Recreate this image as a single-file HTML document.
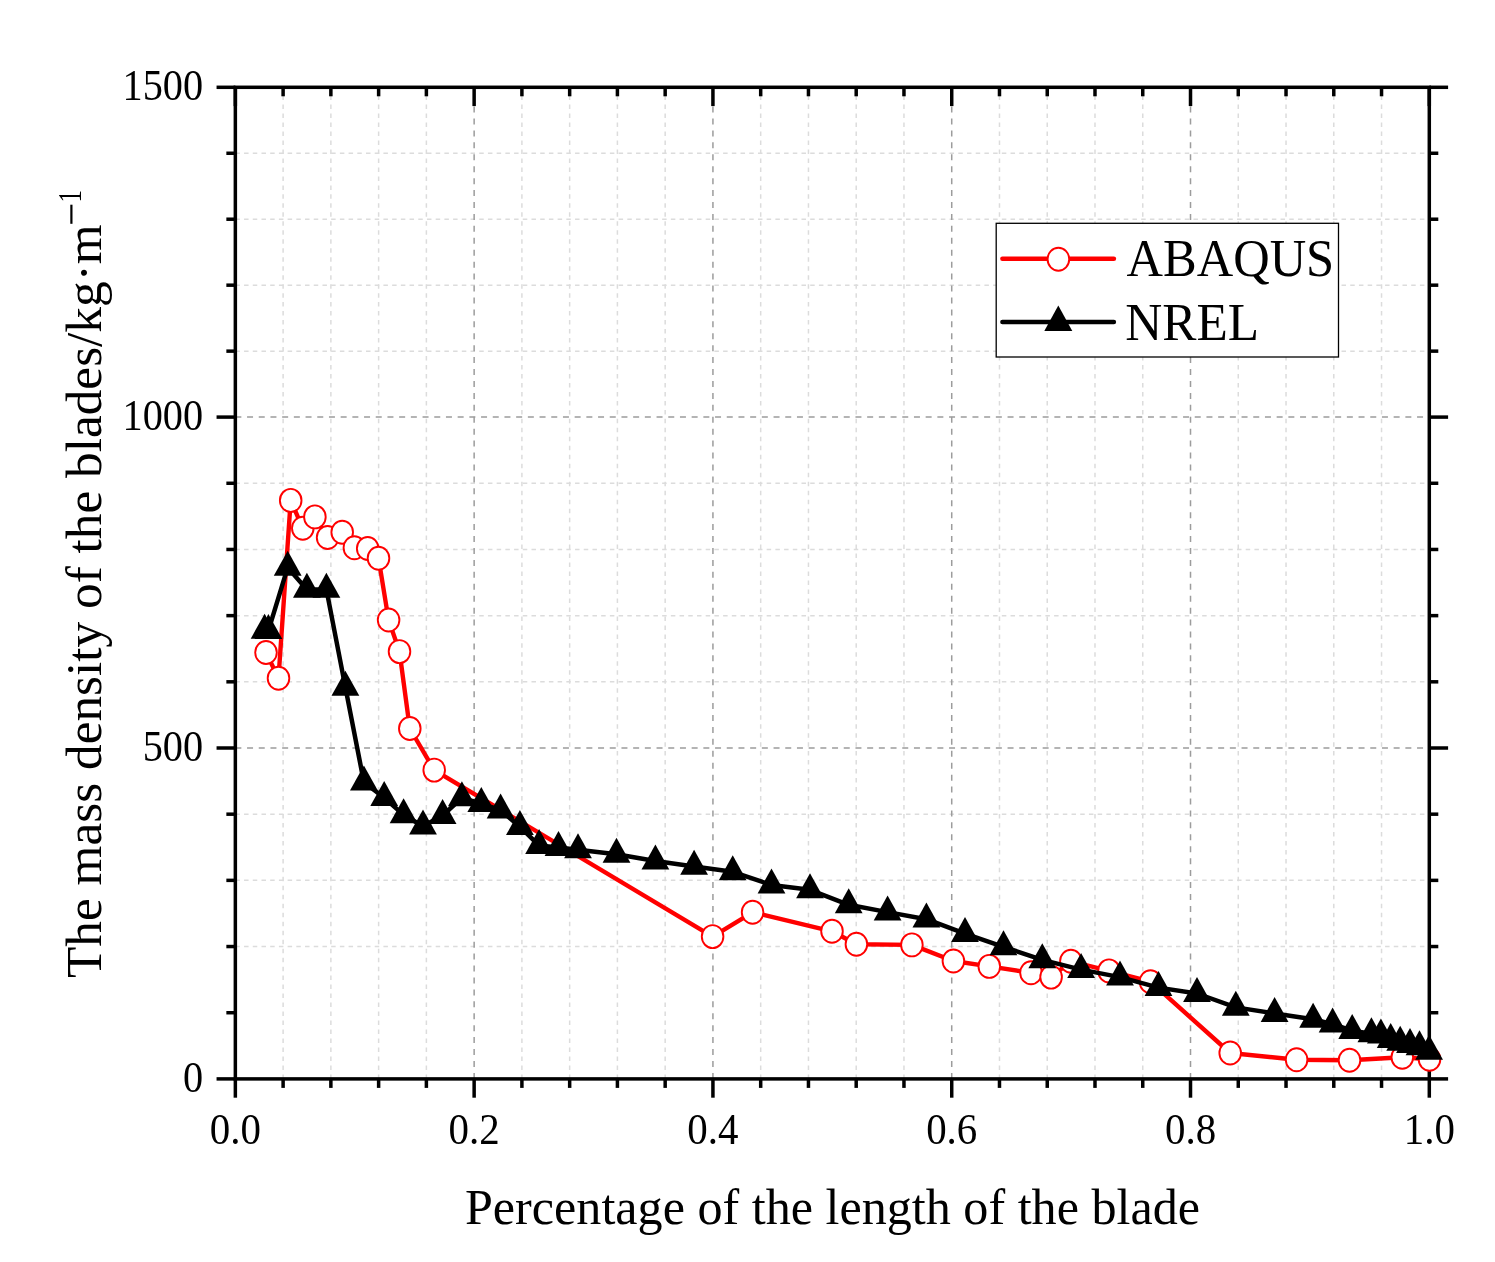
<!DOCTYPE html>
<html><head><meta charset="utf-8"><style>
html,body{margin:0;padding:0;background:#fff;}
svg{display:block;will-change:transform;font-family:"Liberation Serif",serif;}
.mn{stroke:#dcdcdc;stroke-width:1.5;stroke-dasharray:4.5 4.21;}
.mnv{stroke:#dcdcdc;stroke-width:1.5;stroke-dasharray:4.5 4.48;}
.mj{stroke:#9c9c9c;stroke-width:1.5;stroke-dasharray:6 5.7;}
.mjv{stroke:#9c9c9c;stroke-width:1.5;stroke-dasharray:6 5.93;}
</style></head><body>
<svg width="1495" height="1262" viewBox="0 0 1495 1262">
<rect width="1495" height="1262" fill="#fff"/>
<g><line x1="283.11" y1="1078.90" x2="283.11" y2="87.30" class="mnv"/><line x1="330.87" y1="1078.90" x2="330.87" y2="87.30" class="mnv"/><line x1="378.62" y1="1078.90" x2="378.62" y2="87.30" class="mnv"/><line x1="426.38" y1="1078.90" x2="426.38" y2="87.30" class="mnv"/><line x1="521.90" y1="1078.90" x2="521.90" y2="87.30" class="mnv"/><line x1="569.66" y1="1078.90" x2="569.66" y2="87.30" class="mnv"/><line x1="617.41" y1="1078.90" x2="617.41" y2="87.30" class="mnv"/><line x1="665.17" y1="1078.90" x2="665.17" y2="87.30" class="mnv"/><line x1="760.69" y1="1078.90" x2="760.69" y2="87.30" class="mnv"/><line x1="808.45" y1="1078.90" x2="808.45" y2="87.30" class="mnv"/><line x1="856.20" y1="1078.90" x2="856.20" y2="87.30" class="mnv"/><line x1="903.96" y1="1078.90" x2="903.96" y2="87.30" class="mnv"/><line x1="999.48" y1="1078.90" x2="999.48" y2="87.30" class="mnv"/><line x1="1047.24" y1="1078.90" x2="1047.24" y2="87.30" class="mnv"/><line x1="1094.99" y1="1078.90" x2="1094.99" y2="87.30" class="mnv"/><line x1="1142.75" y1="1078.90" x2="1142.75" y2="87.30" class="mnv"/><line x1="1238.27" y1="1078.90" x2="1238.27" y2="87.30" class="mnv"/><line x1="1286.03" y1="1078.90" x2="1286.03" y2="87.30" class="mnv"/><line x1="1333.78" y1="1078.90" x2="1333.78" y2="87.30" class="mnv"/><line x1="1381.54" y1="1078.90" x2="1381.54" y2="87.30" class="mnv"/><line x1="235.35" y1="946.54" x2="1429.30" y2="946.54" class="mn"/><line x1="235.35" y1="880.36" x2="1429.30" y2="880.36" class="mn"/><line x1="235.35" y1="814.18" x2="1429.30" y2="814.18" class="mn"/><line x1="235.35" y1="681.82" x2="1429.30" y2="681.82" class="mn"/><line x1="235.35" y1="615.64" x2="1429.30" y2="615.64" class="mn"/><line x1="235.35" y1="549.46" x2="1429.30" y2="549.46" class="mn"/><line x1="235.35" y1="483.28" x2="1429.30" y2="483.28" class="mn"/><line x1="235.35" y1="351.14" x2="1429.30" y2="351.14" class="mn"/><line x1="235.35" y1="285.18" x2="1429.30" y2="285.18" class="mn"/><line x1="235.35" y1="219.22" x2="1429.30" y2="219.22" class="mn"/><line x1="235.35" y1="153.26" x2="1429.30" y2="153.26" class="mn"/><line x1="474.14" y1="1078.90" x2="474.14" y2="87.30" class="mjv"/><line x1="712.93" y1="1078.90" x2="712.93" y2="87.30" class="mjv"/><line x1="951.72" y1="1078.90" x2="951.72" y2="87.30" class="mjv"/><line x1="1190.51" y1="1078.90" x2="1190.51" y2="87.30" class="mjv"/><line x1="235.35" y1="748.00" x2="1429.30" y2="748.00" class="mj"/><line x1="235.35" y1="417.10" x2="1429.30" y2="417.10" class="mj"/></g>
<g stroke="#000" stroke-width="3.5"><rect x="235.35" y="87.30" width="1193.95" height="991.60" fill="none"/><line x1="235.35" y1="1078.90" x2="235.35" y2="1097.70"/><line x1="235.35" y1="87.30" x2="235.35" y2="106.10"/><line x1="283.11" y1="1078.90" x2="283.11" y2="1087.90"/><line x1="283.11" y1="87.30" x2="283.11" y2="96.30"/><line x1="330.87" y1="1078.90" x2="330.87" y2="1087.90"/><line x1="330.87" y1="87.30" x2="330.87" y2="96.30"/><line x1="378.62" y1="1078.90" x2="378.62" y2="1087.90"/><line x1="378.62" y1="87.30" x2="378.62" y2="96.30"/><line x1="426.38" y1="1078.90" x2="426.38" y2="1087.90"/><line x1="426.38" y1="87.30" x2="426.38" y2="96.30"/><line x1="474.14" y1="1078.90" x2="474.14" y2="1097.70"/><line x1="474.14" y1="87.30" x2="474.14" y2="106.10"/><line x1="521.90" y1="1078.90" x2="521.90" y2="1087.90"/><line x1="521.90" y1="87.30" x2="521.90" y2="96.30"/><line x1="569.66" y1="1078.90" x2="569.66" y2="1087.90"/><line x1="569.66" y1="87.30" x2="569.66" y2="96.30"/><line x1="617.41" y1="1078.90" x2="617.41" y2="1087.90"/><line x1="617.41" y1="87.30" x2="617.41" y2="96.30"/><line x1="665.17" y1="1078.90" x2="665.17" y2="1087.90"/><line x1="665.17" y1="87.30" x2="665.17" y2="96.30"/><line x1="712.93" y1="1078.90" x2="712.93" y2="1097.70"/><line x1="712.93" y1="87.30" x2="712.93" y2="106.10"/><line x1="760.69" y1="1078.90" x2="760.69" y2="1087.90"/><line x1="760.69" y1="87.30" x2="760.69" y2="96.30"/><line x1="808.45" y1="1078.90" x2="808.45" y2="1087.90"/><line x1="808.45" y1="87.30" x2="808.45" y2="96.30"/><line x1="856.20" y1="1078.90" x2="856.20" y2="1087.90"/><line x1="856.20" y1="87.30" x2="856.20" y2="96.30"/><line x1="903.96" y1="1078.90" x2="903.96" y2="1087.90"/><line x1="903.96" y1="87.30" x2="903.96" y2="96.30"/><line x1="951.72" y1="1078.90" x2="951.72" y2="1097.70"/><line x1="951.72" y1="87.30" x2="951.72" y2="106.10"/><line x1="999.48" y1="1078.90" x2="999.48" y2="1087.90"/><line x1="999.48" y1="87.30" x2="999.48" y2="96.30"/><line x1="1047.24" y1="1078.90" x2="1047.24" y2="1087.90"/><line x1="1047.24" y1="87.30" x2="1047.24" y2="96.30"/><line x1="1094.99" y1="1078.90" x2="1094.99" y2="1087.90"/><line x1="1094.99" y1="87.30" x2="1094.99" y2="96.30"/><line x1="1142.75" y1="1078.90" x2="1142.75" y2="1087.90"/><line x1="1142.75" y1="87.30" x2="1142.75" y2="96.30"/><line x1="1190.51" y1="1078.90" x2="1190.51" y2="1097.70"/><line x1="1190.51" y1="87.30" x2="1190.51" y2="106.10"/><line x1="1238.27" y1="1078.90" x2="1238.27" y2="1087.90"/><line x1="1238.27" y1="87.30" x2="1238.27" y2="96.30"/><line x1="1286.03" y1="1078.90" x2="1286.03" y2="1087.90"/><line x1="1286.03" y1="87.30" x2="1286.03" y2="96.30"/><line x1="1333.78" y1="1078.90" x2="1333.78" y2="1087.90"/><line x1="1333.78" y1="87.30" x2="1333.78" y2="96.30"/><line x1="1381.54" y1="1078.90" x2="1381.54" y2="1087.90"/><line x1="1381.54" y1="87.30" x2="1381.54" y2="96.30"/><line x1="1429.30" y1="1078.90" x2="1429.30" y2="1097.70"/><line x1="1429.30" y1="87.30" x2="1429.30" y2="106.10"/><line x1="235.35" y1="1078.90" x2="216.55" y2="1078.90"/><line x1="1429.30" y1="1078.90" x2="1448.10" y2="1078.90"/><line x1="235.35" y1="1012.72" x2="226.35" y2="1012.72"/><line x1="1429.30" y1="1012.72" x2="1438.30" y2="1012.72"/><line x1="235.35" y1="946.54" x2="226.35" y2="946.54"/><line x1="1429.30" y1="946.54" x2="1438.30" y2="946.54"/><line x1="235.35" y1="880.36" x2="226.35" y2="880.36"/><line x1="1429.30" y1="880.36" x2="1438.30" y2="880.36"/><line x1="235.35" y1="814.18" x2="226.35" y2="814.18"/><line x1="1429.30" y1="814.18" x2="1438.30" y2="814.18"/><line x1="235.35" y1="748.00" x2="216.55" y2="748.00"/><line x1="1429.30" y1="748.00" x2="1448.10" y2="748.00"/><line x1="235.35" y1="681.82" x2="226.35" y2="681.82"/><line x1="1429.30" y1="681.82" x2="1438.30" y2="681.82"/><line x1="235.35" y1="615.64" x2="226.35" y2="615.64"/><line x1="1429.30" y1="615.64" x2="1438.30" y2="615.64"/><line x1="235.35" y1="549.46" x2="226.35" y2="549.46"/><line x1="1429.30" y1="549.46" x2="1438.30" y2="549.46"/><line x1="235.35" y1="483.28" x2="226.35" y2="483.28"/><line x1="1429.30" y1="483.28" x2="1438.30" y2="483.28"/><line x1="235.35" y1="417.10" x2="216.55" y2="417.10"/><line x1="1429.30" y1="417.10" x2="1448.10" y2="417.10"/><line x1="235.35" y1="351.14" x2="226.35" y2="351.14"/><line x1="1429.30" y1="351.14" x2="1438.30" y2="351.14"/><line x1="235.35" y1="285.18" x2="226.35" y2="285.18"/><line x1="1429.30" y1="285.18" x2="1438.30" y2="285.18"/><line x1="235.35" y1="219.22" x2="226.35" y2="219.22"/><line x1="1429.30" y1="219.22" x2="1438.30" y2="219.22"/><line x1="235.35" y1="153.26" x2="226.35" y2="153.26"/><line x1="1429.30" y1="153.26" x2="1438.30" y2="153.26"/><line x1="235.35" y1="87.30" x2="216.55" y2="87.30"/><line x1="1429.30" y1="87.30" x2="1448.10" y2="87.30"/></g>
<g font-size="44.5" fill="#000"><text transform="translate(203.1 1091.60) scale(0.905 1)" text-anchor="end">0</text><text transform="translate(203.1 760.70) scale(0.905 1)" text-anchor="end">500</text><text transform="translate(203.1 429.80) scale(0.905 1)" text-anchor="end">1000</text><text transform="translate(203.1 100.00) scale(0.905 1)" text-anchor="end">1500</text><text transform="translate(235.35 1143.6) scale(0.92 1)" text-anchor="middle">0.0</text><text transform="translate(474.14 1143.6) scale(0.92 1)" text-anchor="middle">0.2</text><text transform="translate(712.93 1143.6) scale(0.92 1)" text-anchor="middle">0.4</text><text transform="translate(951.72 1143.6) scale(0.92 1)" text-anchor="middle">0.6</text><text transform="translate(1190.51 1143.6) scale(0.92 1)" text-anchor="middle">0.8</text><text transform="translate(1429.30 1143.6) scale(0.92 1)" text-anchor="middle">1.0</text></g>
<text transform="translate(832.5 1224.2) scale(1.003 1.028)" font-size="50" text-anchor="middle">Percentage of the length of the blade</text>
<g transform="translate(100.7 978) rotate(-90)">
<text x="0" y="0" font-size="51.3">The mass density of the blades/kg·m</text>
<rect x="754.2" y="-30.4" width="19.1" height="2.2" fill="#000"/>
<text transform="translate(775.5 -20.0) scale(0.72 1)" font-size="34.5">1</text>
</g>
<polyline points="266,652.5 278.5,678.2 290.7,500.4 302.8,528.3 314.9,516.9 327.6,537.5 342.2,532.3 354.4,547.7 367.7,548.5 378.5,558.2 388.6,620 399.5,651.6 409.8,728.5 434.2,770.1 712.6,936.6 752.6,912.3 832,931.3 856.4,944.3 911.9,944.9 953.4,961 989.3,966.4 1031,972.8 1051.1,977.1 1070.9,961.3 1109,970.9 1150.5,981.7 1230.2,1053 1296.6,1059.7 1349.5,1060.3 1402.3,1057.2 1429.5,1059.3" fill="none" stroke="#f00" stroke-width="4.4" stroke-linejoin="round"/><g fill="#fff" stroke="#f00" stroke-width="1.9"><ellipse cx="266" cy="652.5" rx="10.8" ry="11.5"/><ellipse cx="278.5" cy="678.2" rx="10.8" ry="11.5"/><ellipse cx="290.7" cy="500.4" rx="10.8" ry="11.5"/><ellipse cx="302.8" cy="528.3" rx="10.8" ry="11.5"/><ellipse cx="314.9" cy="516.9" rx="10.8" ry="11.5"/><ellipse cx="327.6" cy="537.5" rx="10.8" ry="11.5"/><ellipse cx="342.2" cy="532.3" rx="10.8" ry="11.5"/><ellipse cx="354.4" cy="547.7" rx="10.8" ry="11.5"/><ellipse cx="367.7" cy="548.5" rx="10.8" ry="11.5"/><ellipse cx="378.5" cy="558.2" rx="10.8" ry="11.5"/><ellipse cx="388.6" cy="620" rx="10.8" ry="11.5"/><ellipse cx="399.5" cy="651.6" rx="10.8" ry="11.5"/><ellipse cx="409.8" cy="728.5" rx="10.8" ry="11.5"/><ellipse cx="434.2" cy="770.1" rx="10.8" ry="11.5"/><ellipse cx="712.6" cy="936.6" rx="10.8" ry="11.5"/><ellipse cx="752.6" cy="912.3" rx="10.8" ry="11.5"/><ellipse cx="832" cy="931.3" rx="10.8" ry="11.5"/><ellipse cx="856.4" cy="944.3" rx="10.8" ry="11.5"/><ellipse cx="911.9" cy="944.9" rx="10.8" ry="11.5"/><ellipse cx="953.4" cy="961" rx="10.8" ry="11.5"/><ellipse cx="989.3" cy="966.4" rx="10.8" ry="11.5"/><ellipse cx="1031" cy="972.8" rx="10.8" ry="11.5"/><ellipse cx="1051.1" cy="977.1" rx="10.8" ry="11.5"/><ellipse cx="1070.9" cy="961.3" rx="10.8" ry="11.5"/><ellipse cx="1109" cy="970.9" rx="10.8" ry="11.5"/><ellipse cx="1150.5" cy="981.7" rx="10.8" ry="11.5"/><ellipse cx="1230.2" cy="1053" rx="10.8" ry="11.5"/><ellipse cx="1296.6" cy="1059.7" rx="10.8" ry="11.5"/><ellipse cx="1349.5" cy="1060.3" rx="10.8" ry="11.5"/><ellipse cx="1402.3" cy="1057.2" rx="10.8" ry="11.5"/><ellipse cx="1429.5" cy="1059.3" rx="10.8" ry="11.5"/></g><polyline points="264.6,630.4 268.4,630.7 287.7,567.4 306.9,589.4 326.4,589.4 345.4,687.4 363.9,782.2 384.2,797.7 403.6,814.9 423,826.2 442.6,815.5 461.9,797.8 481.3,803.7 500.6,810.1 519.9,826.7 539.1,845.6 558.5,847.6 578,849.8 616.5,854.3 655.4,861.0 694.1,866.4 732.7,871.8 771.5,885.0 810,889.8 848.7,904.8 887.6,912.1 926.4,919.2 965,933.7 1003.5,946.8 1042.3,959.9 1081.1,969.6 1120,977.1 1158.5,987.6 1197,993.5 1235.8,1007.4 1274.6,1013.5 1313.1,1019.3 1332.6,1024.2 1352.2,1030.6 1371.4,1033.8 1380.9,1035.0 1390.7,1039.7 1400.2,1042.3 1410,1044.7 1419.5,1046.9 1429.1,1051.3" fill="none" stroke="#000" stroke-width="4.5" stroke-linejoin="round"/><g fill="#000"><path d="M264.60 613.80L278.50 638.80L250.70 638.80Z"/><path d="M268.40 614.10L282.30 639.10L254.50 639.10Z"/><path d="M287.70 550.80L301.60 575.80L273.80 575.80Z"/><path d="M306.90 572.80L320.80 597.80L293.00 597.80Z"/><path d="M326.40 572.80L340.30 597.80L312.50 597.80Z"/><path d="M345.40 670.80L359.30 695.80L331.50 695.80Z"/><path d="M363.90 765.60L377.80 790.60L350.00 790.60Z"/><path d="M384.20 781.10L398.10 806.10L370.30 806.10Z"/><path d="M403.60 798.30L417.50 823.30L389.70 823.30Z"/><path d="M423.00 809.60L436.90 834.60L409.10 834.60Z"/><path d="M442.60 798.90L456.50 823.90L428.70 823.90Z"/><path d="M461.90 781.20L475.80 806.20L448.00 806.20Z"/><path d="M481.30 787.10L495.20 812.10L467.40 812.10Z"/><path d="M500.60 793.50L514.50 818.50L486.70 818.50Z"/><path d="M519.90 810.10L533.80 835.10L506.00 835.10Z"/><path d="M539.10 829.00L553.00 854.00L525.20 854.00Z"/><path d="M558.50 831.00L572.40 856.00L544.60 856.00Z"/><path d="M578.00 833.20L591.90 858.20L564.10 858.20Z"/><path d="M616.50 837.70L630.40 862.70L602.60 862.70Z"/><path d="M655.40 844.40L669.30 869.40L641.50 869.40Z"/><path d="M694.10 849.80L708.00 874.80L680.20 874.80Z"/><path d="M732.70 855.20L746.60 880.20L718.80 880.20Z"/><path d="M771.50 868.40L785.40 893.40L757.60 893.40Z"/><path d="M810.00 873.20L823.90 898.20L796.10 898.20Z"/><path d="M848.70 888.20L862.60 913.20L834.80 913.20Z"/><path d="M887.60 895.50L901.50 920.50L873.70 920.50Z"/><path d="M926.40 902.60L940.30 927.60L912.50 927.60Z"/><path d="M965.00 917.10L978.90 942.10L951.10 942.10Z"/><path d="M1003.50 930.20L1017.40 955.20L989.60 955.20Z"/><path d="M1042.30 943.30L1056.20 968.30L1028.40 968.30Z"/><path d="M1081.10 953.00L1095.00 978.00L1067.20 978.00Z"/><path d="M1120.00 960.50L1133.90 985.50L1106.10 985.50Z"/><path d="M1158.50 971.00L1172.40 996.00L1144.60 996.00Z"/><path d="M1197.00 976.90L1210.90 1001.90L1183.10 1001.90Z"/><path d="M1235.80 990.80L1249.70 1015.80L1221.90 1015.80Z"/><path d="M1274.60 996.90L1288.50 1021.90L1260.70 1021.90Z"/><path d="M1313.10 1002.70L1327.00 1027.70L1299.20 1027.70Z"/><path d="M1332.60 1007.60L1346.50 1032.60L1318.70 1032.60Z"/><path d="M1352.20 1014.00L1366.10 1039.00L1338.30 1039.00Z"/><path d="M1371.40 1017.20L1385.30 1042.20L1357.50 1042.20Z"/><path d="M1380.90 1018.40L1394.80 1043.40L1367.00 1043.40Z"/><path d="M1390.70 1023.10L1404.60 1048.10L1376.80 1048.10Z"/><path d="M1400.20 1025.70L1414.10 1050.70L1386.30 1050.70Z"/><path d="M1410.00 1028.10L1423.90 1053.10L1396.10 1053.10Z"/><path d="M1419.50 1030.30L1433.40 1055.30L1405.60 1055.30Z"/><path d="M1429.10 1034.70L1443.00 1059.70L1415.20 1059.70Z"/></g>
<rect x="996.2" y="223.3" width="342.3" height="133.7" fill="#fff" stroke="#000" stroke-width="1.3"/>
<line x1="1002.4" y1="258.7" x2="1113.9" y2="258.7" stroke="#f00" stroke-width="4.5" stroke-linecap="round"/>
<ellipse cx="1058.4" cy="259.2" rx="10.8" ry="11.5" fill="#fff" stroke="#f00" stroke-width="1.9"/>
<line x1="1002.4" y1="321.9" x2="1113.9" y2="321.9" stroke="#000" stroke-width="4.5" stroke-linecap="round"/>
<g fill="#000"><path d="M1058.30 305.60L1072.30 330.90L1044.30 330.90Z"/></g>
<text transform="translate(1126.6 275.6) scale(0.99 1.03)" font-size="51">ABAQUS</text>
<text transform="translate(1125.2 339.6) scale(1.005 1.04)" font-size="51">NREL</text>
</svg></body></html>
